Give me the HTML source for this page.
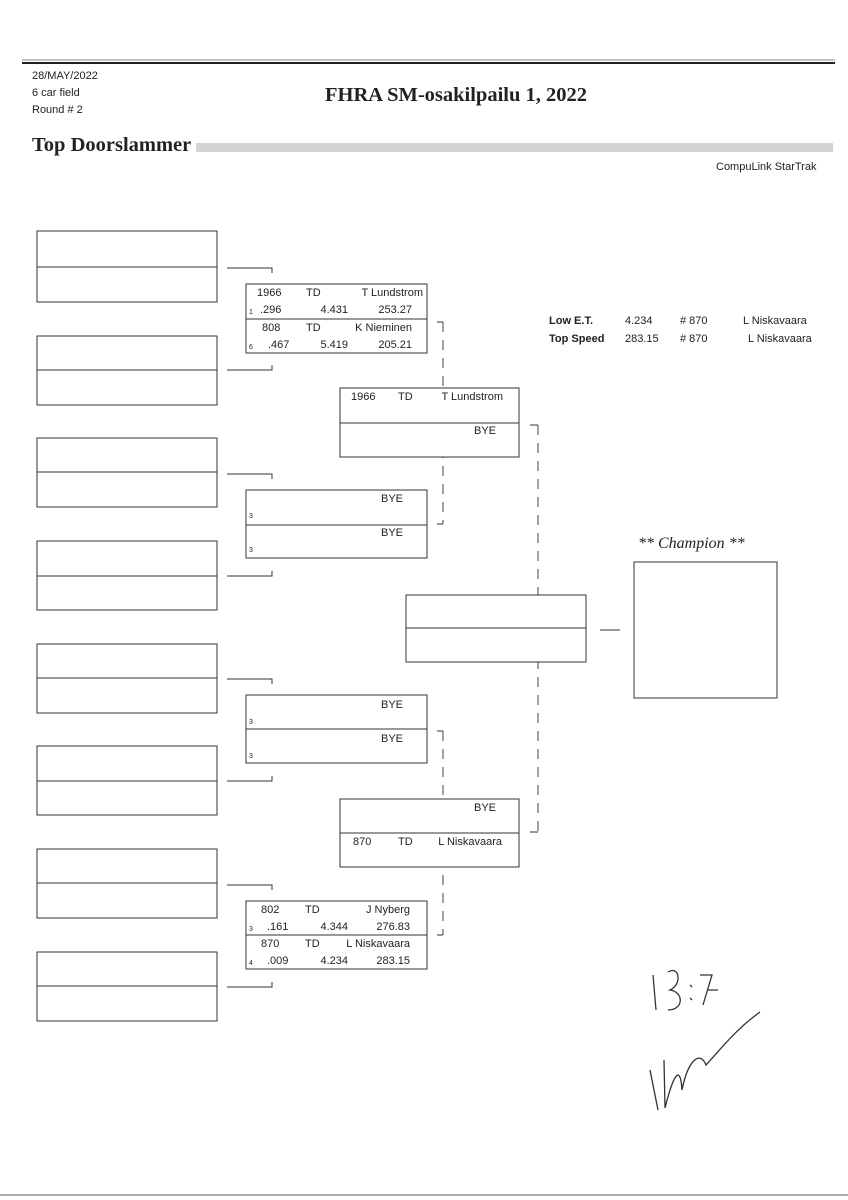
<!DOCTYPE html>
<html><head><meta charset="utf-8"><style>
html,body{margin:0;padding:0;background:#fff;}
svg{display:block;}
text{font-family:"Liberation Sans",sans-serif;fill:#222;}
.s{font-size:11px;}
.b{fill:#fff;stroke:#333;stroke-width:1;}
.l{stroke:#333;stroke-width:1;fill:none;}
.d{stroke:#444;stroke-width:1;fill:none;stroke-dasharray:10,8;}
</style></head><body>
<svg width="848" height="1200" viewBox="0 0 848 1200">
<line x1="22" y1="60" x2="835" y2="60" stroke="#888" stroke-width="1"/>
<line x1="22" y1="63" x2="835" y2="63" stroke="#222" stroke-width="2"/>
<text x="32" y="79" style="font-size:11px">28/MAY/2022</text>
<text x="32" y="96" style="font-size:11px">6 car field</text>
<text x="32" y="113" style="font-size:11px">Round # 2</text>
<text x="325" y="101" style="font-family:'Liberation Serif',serif;font-size:20.5px;font-weight:bold">FHRA SM-osakilpailu 1, 2022</text>
<text x="32" y="151" style="font-family:'Liberation Serif',serif;font-size:20.5px;font-weight:bold">Top Doorslammer</text>
<rect x="196" y="143" width="637" height="9" fill="#d4d4d4"/>
<text x="716" y="170" style="font-size:11px">CompuLink StarTrak</text>

<g>
<rect class="b" x="37" y="231" width="180" height="71"/><line class="l" x1="37" y1="267" x2="217" y2="267"/>
<rect class="b" x="37" y="336" width="180" height="69"/><line class="l" x1="37" y1="370" x2="217" y2="370"/>
<rect class="b" x="37" y="438" width="180" height="69"/><line class="l" x1="37" y1="472" x2="217" y2="472"/>
<rect class="b" x="37" y="541" width="180" height="69"/><line class="l" x1="37" y1="576" x2="217" y2="576"/>
<rect class="b" x="37" y="644" width="180" height="69"/><line class="l" x1="37" y1="678" x2="217" y2="678"/>
<rect class="b" x="37" y="746" width="180" height="69"/><line class="l" x1="37" y1="781" x2="217" y2="781"/>
<rect class="b" x="37" y="849" width="180" height="69"/><line class="l" x1="37" y1="883" x2="217" y2="883"/>
<rect class="b" x="37" y="952" width="180" height="69"/><line class="l" x1="37" y1="986" x2="217" y2="986"/>
</g>
<path class="l" d="M227 268H272V273 M227 370H272V365 M227 474H272V479 M227 576H272V571 M227 679H272V684 M227 781H272V776 M227 885H272V890 M227 987H272V982"/>

<path class="d" d="M443 322V524"/><path class="l" d="M437 322H443 M437 524H443"/>
<path class="d" d="M443 731V935"/><path class="l" d="M437 731H443 M437 935H443"/>
<path class="d" d="M538 425V832"/><path class="l" d="M530 425H538 M530 832H538"/>
<line class="l" x1="600" y1="630" x2="620" y2="630"/>

<rect class="b" x="246" y="284" width="181" height="69"/><line class="l" x1="246" y1="319" x2="427" y2="319"/>
<g class="s">
<text x="257" y="296">1966</text><text x="306" y="296">TD</text><text x="423" y="296" text-anchor="end">T Lundstrom</text>
<text x="249" y="314" style="font-size:7px">1</text><text x="260" y="313">.296</text><text x="348" y="313" text-anchor="end">4.431</text><text x="412" y="313" text-anchor="end">253.27</text>
<text x="262" y="331">808</text><text x="306" y="331">TD</text><text x="412" y="331" text-anchor="end">K Nieminen</text>
<text x="249" y="349" style="font-size:7px">6</text><text x="268" y="348">.467</text><text x="348" y="348" text-anchor="end">5.419</text><text x="412" y="348" text-anchor="end">205.21</text>
</g>
<rect class="b" x="246" y="490" width="181" height="68"/><line class="l" x1="246" y1="525" x2="427" y2="525"/>
<g class="s"><text x="403" y="502" text-anchor="end">BYE</text><text x="249" y="518" style="font-size:7px">3</text>
<text x="403" y="536" text-anchor="end">BYE</text><text x="249" y="552" style="font-size:7px">3</text></g>
<rect class="b" x="246" y="695" width="181" height="68"/><line class="l" x1="246" y1="729" x2="427" y2="729"/>
<g class="s"><text x="403" y="708" text-anchor="end">BYE</text><text x="249" y="724" style="font-size:7px">3</text>
<text x="403" y="742" text-anchor="end">BYE</text><text x="249" y="758" style="font-size:7px">3</text></g>
<rect class="b" x="246" y="901" width="181" height="68"/><line class="l" x1="246" y1="935" x2="427" y2="935"/>
<g class="s">
<text x="261" y="913">802</text><text x="305" y="913">TD</text><text x="410" y="913" text-anchor="end">J Nyberg</text>
<text x="249" y="931" style="font-size:7px">3</text><text x="267" y="930">.161</text><text x="348" y="930" text-anchor="end">4.344</text><text x="410" y="930" text-anchor="end">276.83</text>
<text x="261" y="947">870</text><text x="305" y="947">TD</text><text x="410" y="947" text-anchor="end">L Niskavaara</text>
<text x="249" y="965" style="font-size:7px">4</text><text x="267" y="964">.009</text><text x="348" y="964" text-anchor="end">4.234</text><text x="410" y="964" text-anchor="end">283.15</text>
</g>

<rect class="b" x="340" y="388" width="179" height="69"/><line class="l" x1="340" y1="423" x2="519" y2="423"/>
<g class="s"><text x="351" y="400">1966</text><text x="398" y="400">TD</text><text x="503" y="400" text-anchor="end">T Lundstrom</text>
<text x="496" y="434" text-anchor="end">BYE</text></g>
<rect class="b" x="340" y="799" width="179" height="68"/><line class="l" x1="340" y1="833" x2="519" y2="833"/>
<g class="s"><text x="496" y="811" text-anchor="end">BYE</text>
<text x="353" y="845">870</text><text x="398" y="845">TD</text><text x="502" y="845" text-anchor="end">L Niskavaara</text></g>

<rect class="b" x="406" y="595" width="180" height="67"/><line class="l" x1="406" y1="628" x2="586" y2="628"/>

<text x="638" y="548" style="font-family:'Liberation Serif',serif;font-size:16px;font-style:italic">** Champion **</text>
<rect class="b" x="634" y="562" width="143" height="136"/>

<g class="s">
<text x="549" y="324" style="font-weight:bold">Low  E.T.</text><text x="625" y="324">4.234</text><text x="680" y="324"># 870</text><text x="743" y="324">L Niskavaara</text>
<text x="549" y="342" style="font-weight:bold">Top Speed</text><text x="625" y="342">283.15</text><text x="680" y="342"># 870</text><text x="748" y="342">L Niskavaara</text>
</g>

<path d="M653 975 L656 1010 M668 972 C680 965 682 985 670 990 C684 992 684 1010 668 1010 M690 985 l2 2 M690 998 l2 2 M700 975 L712 975 L703 1005 M708 990 h10" stroke="#333" stroke-width="1.3" fill="none"/>
<path d="M650 1070 L658 1110 M664 1060 L665 1108 C672 1080 680 1060 682 1090 C688 1060 700 1050 706 1065 C720 1050 735 1030 760 1012" stroke="#333" stroke-width="1.3" fill="none"/>

<line x1="0" y1="1195" x2="848" y2="1195" stroke="#555" stroke-width="1"/>
</svg>
</body></html>
